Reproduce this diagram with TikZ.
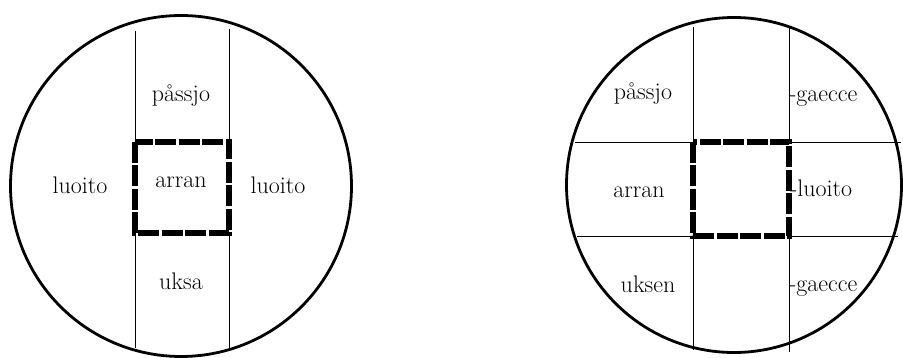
\documentclass[tikz,border=0pt]{standalone}
\begin{document}
\begin{tikzpicture}[x=1pt,y=-1pt,
  rim/.style={line width=2.8pt},
  thin/.style={line width=0.8pt},
  cell/.style={line width=5.5pt,dash pattern=on 21pt off 2.5pt},
  lab/.style={font=\fontsize{24}{28}\selectfont,inner sep=0pt,anchor=base},
  labw/.style={lab,anchor=base west}]
\useasboundingbox (0,0) rectangle (903,358);
% left circle
\draw[rim] (181,186) circle (170.5);
\draw[thin] (135,31) -- (135,142) (135,233) -- (135,348);
\draw[thin] (229,29) -- (229,142) (229,233) -- (229,348);
\draw[cell] (135,142) rectangle (229,233);
\node[lab] (lp) at (181,102) {påssjo};
\node[lab] (ll) at (80,194) {luoito};
\node[lab] (la) at (181,188) {arran};
\node[lab] (lr) at (278,194) {luoito};
\node[lab] (lu) at (181,290) {uksa};
% right circle
\draw[rim] (734,185) circle (167.5);
\draw[thin] (693,27) -- (693,142) (693,236) -- (693,350);
\draw[thin] (789,27) -- (789,142) (789,236) -- (789,352);
\draw[thin] (575,142) -- (693,142) (789,142) -- (901,142);
\draw[thin] (577,236) -- (693,236) (789,236) -- (898,236);
\draw[cell] (693,142) rectangle (789,236);
\node[lab] (rp) at (643,100) {påssjo};
\node[labw] (rg1) at (789,102) {-gaecce};
\node[lab] (ra) at (639,198) {arran};
\node[labw] (rl) at (790,197) {-luoito};
\node[lab] (ru) at (648,293) {uksen};
\node[labw] (rg2) at (789,292) {-gaecce};
\end{tikzpicture}
\end{document}
